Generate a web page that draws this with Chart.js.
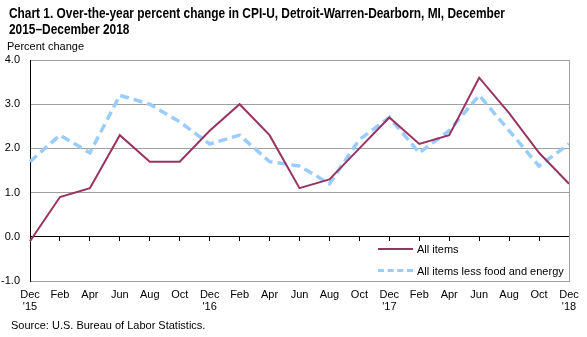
<!DOCTYPE html>
<html>
<head>
<meta charset="utf-8">
<script src="https://cdn.jsdelivr.net/npm/chart.js@4.4.0/dist/chart.umd.min.js"></script>
<style>
    body { margin: 0; background: #fff; font-family: "Liberation Sans", Arial, sans-serif; }
    #wrap { position: relative; width: 587px; height: 337px; }
    #title { position: absolute; left: 9px; top: 5px; font-weight: bold; font-size: 15px; line-height: 16px; color: #000; white-space: nowrap; transform-origin: 0 0; }
    #ylabel { position: absolute; left: 7px; top: 40px; font-size: 11px; color: #000; }
    #source { position: absolute; left: 11px; top: 319px; font-size: 11px; color: #000; }
    .leg { position: absolute; font-size: 11px; color: #000; }
    .swatch { position: absolute; width: 35px; }
</style>
</head>
<body>
<div id="wrap">
    <canvas id="cpiChart" width="587" height="337"></canvas>
    <div id="title"><span id="titleLine">Chart 1. Over-the-year percent change in CPI-U, Detroit-Warren-Dearborn, MI, December</span><br>2015–December 2018</div>
    <div id="ylabel">Percent change</div>
    <div class="swatch" style="left:378px; top:248px; border-top:2px solid #993360;"></div>
    <div class="leg" style="left:417px; top:243px;">All items</div>
    <div class="swatch" style="left:378px; top:269px; border-top:3px dashed #99ccff;"></div>
    <div class="leg" style="left:417px; top:265px;">All items less food and energy</div>
    <div id="source">Source: U.S. Bureau of Labor Statistics.</div>
</div>
<script>
// Data (bimonthly, Dec 2015 - Dec 2018)
const months = [
    ["Dec", "'15"], "Feb", "Apr", "Jun", "Aug", "Oct",
    ["Dec", "'16"], "Feb", "Apr", "Jun", "Aug", "Oct",
    ["Dec", "'17"], "Feb", "Apr", "Jun", "Aug", "Oct",
    ["Dec", "'18"]
];
const allItems = [-0.1, 0.9, 1.1, 2.3, 1.7, 1.7, 2.4, 3.0, 2.3, 1.1, 1.3, 2.0, 2.7, 2.1, 2.3, 3.6, 2.8, 1.9, 1.2];
const lessFoodEnergy = [1.7, 2.3, 1.9, 3.2, 3.0, 2.6, 2.1, 2.3, 1.7, 1.6, 1.2, 2.2, 2.7, 1.9, 2.4, 3.2, 2.4, 1.6, 2.1];
const yTicks = [-1, 0, 1, 2, 3, 4];

// Squeeze the title into the narrow width used by the original
const titleLine = document.getElementById("titleLine");
const titleScale = 496 / titleLine.getBoundingClientRect().width;
document.getElementById("title").style.transform = "scaleX(" + titleScale + ")";

const tickFont = { family: "Liberation Sans, Arial, sans-serif", size: 11, lineHeight: 1.1 };

// right border of the plot area
const plotBorder = {
    id: "plotBorder",
    afterDraw(chart) {
        const a = chart.chartArea;
        const ctx = chart.ctx;
        ctx.save();
        ctx.strokeStyle = "#a0a0a0";
        ctx.lineWidth = 1;
        ctx.beginPath();
        ctx.moveTo(Math.round(a.right) + 0.5, a.top);
        ctx.lineTo(Math.round(a.right) + 0.5, a.bottom);
        ctx.stroke();
        ctx.restore();
    },
};

const ctx = document.getElementById("cpiChart").getContext("2d");
const cpiChart = new Chart(ctx, {
    type: "line",
    data: {
        labels: months,
        datasets: [
            {
                label: "All items",
                data: allItems,
                borderColor: "#993360",
                borderWidth: 2,
                pointRadius: 0,
                tension: 0,
                fill: false,
                xAxisID: "x",
            },
            {
                label: "All items less food and energy",
                data: lessFoodEnergy,
                borderColor: "#99ccff",
                borderWidth: 3.5,
                borderDash: [9, 5],
                pointRadius: 0,
                tension: 0,
                fill: false,
                xAxisID: "x",
            },
        ],
    },
    options: {
        responsive: false,
        animation: false,
        layout: { padding: { top: 60, right: 18, left: 0, bottom: 0 } },
        plugins: {
            legend: { display: false },
            tooltip: { enabled: false },
        },
        scales: {
            x: {
                type: "category",
                position: "bottom",
                offset: false,
                grid: { display: false },
                border: { display: true, color: "#a0a0a0" },
                ticks: {
                    color: "#000",
                    font: tickFont,
                    maxRotation: 0,
                    autoSkip: false,
                    padding: 0,
                },
                afterFit(scale) { scale.height = 56; },
            },
            x2: {
                type: "category",
                labels: months,
                position: { y: 0 },
                offset: false,
                grid: {
                    display: true,
                    drawOnChartArea: false,
                    drawTicks: true,
                    tickLength: 4,
                    color: "#000",
                },
                border: { display: true, color: "#000", width: 1 },
                ticks: { display: false },
                afterFit(scale) { scale.height = 0; },
            },
            y: {
                min: -1,
                max: 4,
                afterBuildTicks(scale) {
                    scale.ticks = yTicks.map((v) => ({ value: v }));
                },
                grid: { color: "#a0a0a0", drawTicks: false },
                border: { display: true, color: "#000" },
                ticks: {
                    color: "#000",
                    font: { family: "Liberation Sans, Arial, sans-serif", size: 11 },
                    padding: 10,
                    callback: (v) => v.toFixed(1),
                },
                afterFit(scale) { scale.width = 30; },
            },
        },
    },
    plugins: [plotBorder],
});
</script>
</body>
</html>
